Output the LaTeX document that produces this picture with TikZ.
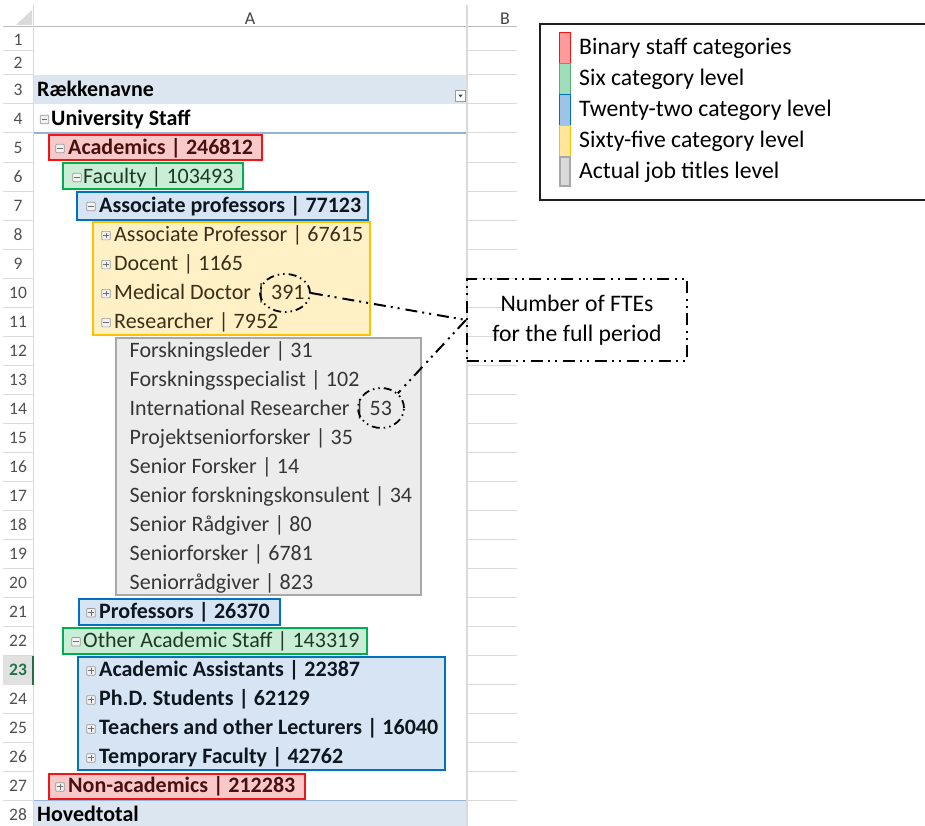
\documentclass[tikz,border=0pt]{standalone}
\usepackage{fontspec}
\setmainfont{Carlito}
\usetikzlibrary{shapes.geometric}
\definecolor{gridc}{HTML}{DADADA}
\definecolor{numc}{HTML}{505050}
\definecolor{hdrc}{HTML}{444444}
\definecolor{bandF}{HTML}{DCE6F1}
\definecolor{bandL}{HTML}{95B3D7}
\definecolor{redF}{HTML}{F9C9C9}
\definecolor{redB}{HTML}{F21515}
\definecolor{redT}{HTML}{4A1010}
\definecolor{greenF}{HTML}{C9EDD5}
\definecolor{greenB}{HTML}{00B050}
\definecolor{greenT}{HTML}{1C3A24}
\definecolor{blueF}{HTML}{D7E4F3}
\definecolor{blueB}{HTML}{0070C0}
\definecolor{blueT}{HTML}{0E1620}
\definecolor{yelF}{HTML}{FFF0C6}
\definecolor{yelB}{HTML}{FFC000}
\definecolor{yelT}{HTML}{3A3018}
\definecolor{grayF}{HTML}{ECECEC}
\definecolor{grayB}{HTML}{A8A8A8}
\definecolor{grayT}{HTML}{363636}
\definecolor{iconB}{HTML}{9A9A9A}
\definecolor{iconF}{HTML}{F2F2F2}
\definecolor{iconS}{HTML}{707070}
\definecolor{selG}{HTML}{217346}
\definecolor{lgRedF}{HTML}{FF9B9B}
\definecolor{lgGreenF}{HTML}{A0DEBB}
\definecolor{lgGreenB}{HTML}{50B070}
\definecolor{lgBlueF}{HTML}{9DC3E6}
\definecolor{lgYelF}{HTML}{FFE699}
\definecolor{lgGrayF}{HTML}{D9D9D9}
\tikzset{
  cell/.style={anchor=base west, inner sep=0pt, font=\fontsize{22}{25}\selectfont},
  bcell/.style={cell, font=\fontsize{22}{25}\selectfont\bfseries},
  rownum/.style={anchor=center, inner sep=0pt, text=numc, font=\fontsize{17.5}{20}\selectfont},
  colhdr/.style={anchor=center, inner sep=0pt, text=hdrc, font=\fontsize{18}{20}\selectfont},
  grid/.style={draw=gridc, line width=1pt},
  hlbox/.style={line width=2pt},
  icon/.style={draw=iconB, fill=iconF, line width=0.7pt, minimum size=8.5pt, inner sep=0pt, rounded corners=0.8pt},
  iconline/.style={draw=iconS, line width=1pt},
  legtext/.style={anchor=base west, inner sep=0pt, font=\fontsize{23.7}{28}\selectfont},
  swatch/.style={line width=1pt},
  ftedash/.style={dash pattern=on 12pt off 5pt on 2pt off 5pt on 2pt off 6pt},
  ftebox/.style={draw=black, line width=2.2pt, ftedash, minimum width=220pt, minimum height=82pt, inner sep=0pt},
  ftering/.style={ellipse, draw=black, line width=1.8pt, dash pattern=on 8pt off 4pt on 1.5pt off 4pt on 1.5pt off 4pt, inner sep=0pt},
  fteline/.style={draw=black, line width=2pt, ftedash},
}
\newcommand{\minusicon}[3]{%
  \node[icon] (#1) at (#2,#3) {};
  \draw[iconline] ([xshift=-2.7pt]#1.center) -- ([xshift=2.7pt]#1.center);}
\newcommand{\plusicon}[3]{%
  \minusicon{#1}{#2}{#3}
  \draw[iconline] ([yshift=-2.7pt]#1.center) -- ([yshift=2.7pt]#1.center);}
\begin{document}
\begin{tikzpicture}[x=1pt,y=-1pt]
\useasboundingbox (0,0) rectangle (925,826);
\fill[white] (0,0) rectangle (925,826);

% ---------- sheet grid ----------
\fill[bandF] (33,75) rectangle (467,104);
\fill[bandF] (33,800.5) rectangle (467,826);
\draw[bandL, line width=1.2pt] (33,133) -- (467,133);
\draw[bandL, line width=1pt] (33,800.5) -- (467,800.5);
\draw[grid] (3,51) -- (33,51);
\draw[grid] (467,51) -- (517,51);
\foreach \n in {2,...,27}{
  \draw[grid] (3,{162.01+(\n-5)*29.02}) -- (33,{162.01+(\n-5)*29.02});
  \draw[grid] (467,{162.01+(\n-5)*29.02}) -- (517,{162.01+(\n-5)*29.02});
}
\draw[draw=gridc!85!black, line width=1pt] (3,27) -- (517,27);
\draw[grid] (33,5) -- (33,826);
\draw[grid, line width=1.6pt] (467,5) -- (467,826);
\fill[gridc] (32,10) -- (32,25) -- (16,25) -- cycle;
\node[colhdr] (hA) at (250,18.5) {A};
\node[colhdr] (hB) at (505,18.5) {B};

% row numbers
\fill[gridc!80!white] (3,656.2) rectangle (32,685.2);
\fill[selG] (32,656.2) rectangle (34,685.2);
\node[rownum] (rn1) at (18,39.5) {1};
\node[rownum] (rn2) at (18,63) {2};
\foreach \n in {3,...,22,24,25,26,27,28}{
  \node[rownum] (rn\n) at (18,{147.5+(\n-5)*29.02}) {\n};
}
\node[rownum, text=selG, font=\fontsize{17.5}{20}\selectfont\bfseries] (rn23) at (18,669.86) {23};

% dropdown
\draw[draw=iconB, fill=white, line width=0.7pt] (455.5,90.5) rectangle (465.5,101);
\fill[hdrc] (458.3,94.6) -- (462.7,94.6) -- (460.5,97.3) -- cycle;

% ---------- highlight boxes ----------
\draw[hlbox, draw=redB, fill=redF] (49,135) rectangle (262,160);
\draw[hlbox, draw=greenB, fill=greenF] (63,163) rectangle (243,189);
\draw[hlbox, draw=blueB, fill=blueF] (77,192) rectangle (368,220);
\draw[hlbox, draw=yelB, fill=yelF] (93,222.5) rectangle (370,334.5);
\draw[hlbox, draw=grayB, fill=grayF] (115.5,338) rectangle (421,595);
\draw[hlbox, draw=blueB, fill=blueF] (79,599) rectangle (280,625);
\draw[hlbox, draw=greenB, fill=greenF] (63,628) rectangle (367,654);
\draw[hlbox, draw=blueB, fill=blueF] (78,657) rectangle (445,770);
\draw[hlbox, draw=redB, fill=redF] (49,773.5) rectangle (305,798.5);

% ---------- texts ----------
\node[bcell] (t3) at (37,96.1) {Rækkenavne};
\minusicon{i4}{44.5}{119.5}
\node[bcell] (t4) at (51,125.1) {University Staff};
\minusicon{i5}{60}{148.5}
\node[bcell, text=redT] (t5) at (68,154.1) {Academics | 246812};
\minusicon{i6}{77}{177.5}
\node[cell, text=greenT] (t6) at (83,183.1) {Faculty | 103493};
\minusicon{i7}{91}{206.5}
\node[bcell, text=blueT] (t7) at (99,212.1) {Associate professors | 77123};
\plusicon{i8}{106}{235.6}
\node[cell, text=yelT] (t8) at (114,241.2) {Associate Professor | 67615};
\plusicon{i9}{106}{264.6}
\node[cell, text=yelT] (t9) at (114,270.2) {Docent | 1165};
\plusicon{i10}{106}{293.6}
\node[cell, text=yelT] (t10) at (114,299.2) {Medical Doctor | 391};
\minusicon{i11}{106}{322.6}
\node[cell, text=yelT] (t11) at (114,328.2) {Researcher | 7952};
\node[cell, text=grayT] (t12) at (129.5,357.2) {Forskningsleder | 31};
\node[cell, text=grayT] (t13) at (129.5,386.3) {Forskningsspecialist | 102};
\node[cell, text=grayT] (t14) at (129.5,415.3) {International Researcher | 53};
\node[cell, text=grayT] (t15) at (129.5,444.3) {Projektseniorforsker | 35};
\node[cell, text=grayT] (t16) at (129.5,473.3) {Senior Forsker | 14};
\node[cell, text=grayT] (t17) at (129.5,502.3) {Senior forskningskonsulent | 34};
\node[cell, text=grayT] (t18) at (129.5,531.4) {Senior Rådgiver | 80};
\node[cell, text=grayT] (t19) at (129.5,560.4) {Seniorforsker | 6781};
\node[cell, text=grayT] (t20) at (129.5,589.4) {Seniorrådgiver | 823};
\plusicon{i21}{91}{612.8}
\node[bcell, text=blueT] (t21) at (99,618.4) {Professors | 26370};
\minusicon{i22}{76}{641.8}
\node[cell, text=greenT] (t22) at (83,647.4) {Other Academic Staff | 143319};
\plusicon{i23}{91}{670.9}
\node[bcell, text=blueT] (t23) at (99,676.5) {Academic Assistants | 22387};
\plusicon{i24}{91}{699.9}
\node[bcell, text=blueT] (t24) at (99,705.5) {Ph.D. Students | 62129};
\plusicon{i25}{91}{728.9}
\node[bcell, text=blueT] (t25) at (99,734.5) {Teachers and other Lecturers | 16040};
\plusicon{i26}{91}{757.9}
\node[bcell, text=blueT] (t26) at (99,763.5) {Temporary Faculty | 42762};
\plusicon{i27}{60}{786.9}
\node[bcell, text=redT] (t27) at (68,792.5) {Non-academics | 212283};
\node[bcell] (t28) at (37,821.6) {Hovedtotal};

% ---------- legend ----------
\draw[black!88, line width=2pt] (926,24) -- (540,24) -- (540,200) -- (926,200);
\draw[swatch, draw=redB, fill=lgRedF] (559.5,32.5) rectangle (570.5,63.5);
\draw[swatch, draw=lgGreenB, fill=lgGreenF] (559.5,63.5) rectangle (570.5,94.5);
\draw[swatch, draw=blueB, fill=lgBlueF] (559.5,94.5) rectangle (570.5,125.5);
\draw[swatch, draw=yelB, fill=lgYelF] (559.5,125.5) rectangle (570.5,156.5);
\draw[swatch, draw=grayB, fill=lgGrayF, line width=2pt] (560,157.5) rectangle (570,186.5);
\node[legtext] (l1) at (579,54.5) {Binary staff categories};
\node[legtext] (l2) at (579,85.8) {Six category level};
\node[legtext] (l3) at (579,116.8) {Twenty-two category level};
\node[legtext] (l4) at (579,147.8) {Sixty-five category level};
\node[legtext] (l5) at (579,178.8) {Actual job titles level};

% ---------- FTE callout ----------
\node[ftebox] (fte) at (577,320) {};
\node[legtext, anchor=base] (fte1) at (577,311.5) {Number of FTEs};
\node[legtext, anchor=base] (fte2) at (577,341.5) {for the full period};
\node[ftering, minimum width=50pt, minimum height=38pt] (e391) at (285,293) {};
\node[ftering, minimum width=46pt, minimum height=40pt] (e53) at (381,408) {};
\draw[fteline] (e391.east) -- (fte.west);
\draw[fteline] (fte.west) -- (e53.north east);
\end{tikzpicture}
\end{document}
